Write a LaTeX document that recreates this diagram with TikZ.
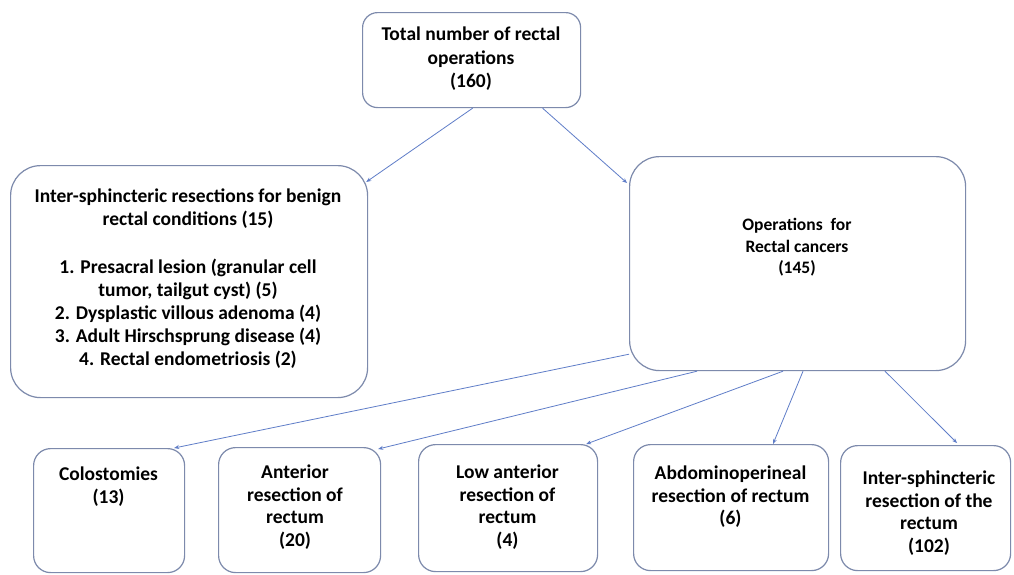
\documentclass[tikz,border=0pt]{standalone}
\usepackage{fontspec}
\setmainfont{Carlito}
\usetikzlibrary{calc,arrows.meta}
\definecolor{boxcol}{RGB}{125,138,172}
\definecolor{arrcol}{RGB}{95,125,200}
\begin{document}
\begin{tikzpicture}[x=1pt,y=-1pt,
  box/.style={draw=boxcol,line width=1.2pt,rounded corners=#1,inner sep=0pt,anchor=north west},
  box/.default=17pt,
  txt/.style={font=\bfseries\fontsize{19.5}{22.5}\selectfont,align=center,inner sep=0pt,anchor=north},
  arr/.style={draw=arrcol,line width=0.8pt,-{Stealth[length=5pt,width=4pt]}}]
\fill[white] (0,0) rectangle (1014,574);
\useasboundingbox (0,0) rectangle (1014,574);

% top
\node[box=15pt,minimum width=218pt,minimum height=95pt] (top) at (362,12) {};
\node[txt,font=\bfseries\fontsize{19.5}{23.5}\selectfont] (topt) at (471,27) {Total number of rectal\\operations\\(160)};

% benign
\node[box=30pt,minimum width=357pt,minimum height=232pt] (left) at (10,165) {};
\node[txt,font=\bfseries\fontsize{19.5}{23}\selectfont] (leftt) at (188,189) {Inter-sphincteric resections for benign\\rectal conditions (15)\\[25pt]1. Presacral lesion (granular cell\\tumor, tailgut cyst) (5)\\2. Dysplastic villous adenoma (4)\\3. Adult Hirschsprung disease (4)\\4. Rectal endometriosis (2)};

% cancers
\node[box=30pt,minimum width=336pt,minimum height=214pt] (canc) at (629,156) {};
\node[txt,font=\bfseries\fontsize{17.5}{21.5}\selectfont] (canct) at (797,218) {Operations\ \ for\\Rectal cancers\\(145)};

% bottom row
\node[box,minimum width=151pt,minimum height=124pt] (colo) at (33,448) {};
\node[txt] (colot) at (108.5,467) {Colostomies\\(13)};
\node[box,minimum width=162pt,minimum height=125pt] (ant) at (218,447) {};
\node[txt] (antt) at (295,465) {Anterior\\resection of\\rectum\\(20)};
\node[box,minimum width=179pt,minimum height=127pt] (low) at (418,444) {};
\node[txt] (lowt) at (507.5,465) {Low anterior\\resection of\\rectum\\(4)};
\node[box,minimum width=195pt,minimum height=126pt] (abdo) at (633,444) {};
\node[txt] (abdot) at (730.5,466) {Abdominoperineal\\resection of rectum\\(6)};
\node[box,minimum width=170pt,minimum height=125pt] (inter) at (840,445) {};
\node[txt] (intert) at (929,471) {Inter-sphincteric\\resection of the\\rectum\\(102)};

% connectors
\draw[arr] ($(top.south)+(1,0)$) -- ($(left.north east)+(-2,17)$);
\draw[arr] ($(top.south)+(71,0)$) -- ($(canc.north west)+(-2,27)$);
\draw[arr] ($(canc.south west)+(0,-17)$) -- ($(colo.north east)+(-11,0)$);
\draw[arr] ($(canc.south west)+(68,0)$) -- ($(ant.north east)+(-3,2)$);
\draw[arr] ($(canc.south west)+(154,0)$) -- ($(low.north east)+(-12,0)$);
\draw[arr] ($(canc.south west)+(174,0)$) -- ($(abdo.north west)+(140,0)$);
\draw[arr] ($(canc.south west)+(256,0)$) -- ($(inter.north west)+(117,-2)$);
\end{tikzpicture}
\end{document}
